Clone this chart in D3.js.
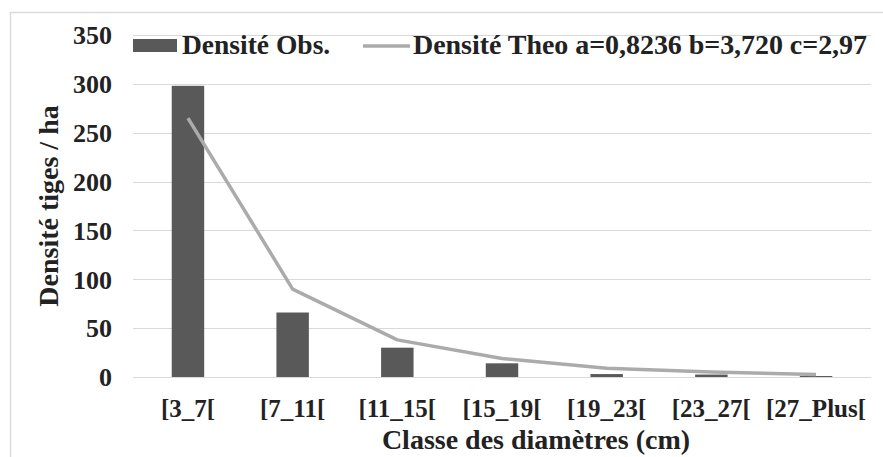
<!DOCTYPE html>
<html>
<head>
<meta charset="utf-8">
<script src="https://cdn.jsdelivr.net/npm/d3@7"></script>
<style>
  body { margin: 0; background: #fff; }
  svg text { font-family: "Liberation Serif", "Times New Roman", serif; font-weight: bold; fill: #222; }
</style>
</head>
<body>
<div id="chart"></div>
<script>
// classes de diamètre
const classes = ["[3_7[", "[7_11[", "[11_15[", "[15_19[", "[19_23[", "[23_27[", "[27_Plus["];
// densité observée (barres)
const densiteObs = [298, 66, 30, 14, 3, 2.5, 1];
// densité théorique (courbe Weibull)
const densiteTheo = [265, 90, 38, 19, 9, 5, 2.5];
const yTicks = [0, 50, 100, 150, 200, 250, 300, 350];
const legendObs = "Densité Obs.";
const legendTheo = "Densité Theo a=0,8236 b=3,720 c=2,97";

const width = 883, height = 457;
const margin = {top: 35, right: 12, bottom: 80, left: 133};

const svg = d3.select('#chart').append('svg')
    .attr('width', width)
    .attr('height', height);

// cadre du graphique
svg.append('path')
    .attr('d', `M10.5,${height} V12.5 H${width}`)
    .attr('fill', 'none')
    .attr('stroke', '#dcdcdc')
    .attr('stroke-width', 1.5);

const x = d3.scaleBand()
    .domain(classes)
    .range([margin.left, width - margin.right])
    .paddingInner(0.69)
    .paddingOuter(0.37);

const y = d3.scaleLinear()
    .domain([0, 350])
    .range([height - margin.bottom, margin.top]);

// grille horizontale
svg.append('g')
    .selectAll('line')
    .data(yTicks)
    .join('line')
    .attr('x1', margin.left)
    .attr('x2', width - margin.right)
    .attr('y1', d => Math.round(y(d)) + 0.5)
    .attr('y2', d => Math.round(y(d)) + 0.5)
    .attr('stroke', '#d9d9d9')
    .attr('stroke-width', 1.2);

// axe y
const yAxis = svg.append('g')
    .attr('transform', `translate(${margin.left - 21},0)`)
    .call(d3.axisLeft(y).tickValues(yTicks).tickSize(0).tickPadding(0));
yAxis.select('.domain').remove();
yAxis.selectAll('text')
    .style('font-size', '26px')
    .attr('dy', '0.34em')
    .attr('fill', '#222');

// axe x
const xAxis = svg.append('g')
    .attr('transform', `translate(0,${height - margin.bottom})`)
    .call(d3.axisBottom(x).tickSize(0).tickPadding(0));
xAxis.select('.domain').remove();
xAxis.selectAll('text')
    .style('font-size', '25px')
    .attr('y', 40)
    .attr('dy', 0)
    .attr('fill', '#222');

// barres
svg.append('g')
    .selectAll('rect')
    .data(densiteObs)
    .join('rect')
    .attr('x', (d, i) => x(classes[i]))
    .attr('y', d => y(d))
    .attr('width', x.bandwidth())
    .attr('height', d => y(0) - y(d))
    .attr('fill', '#595959');

// courbe théorique
const line = d3.line()
    .x((d, i) => x(classes[i]) + x.bandwidth() / 2)
    .y(d => y(d));

svg.append('path')
    .datum(densiteTheo)
    .attr('d', line)
    .attr('fill', 'none')
    .attr('stroke', '#ababab')
    .attr('stroke-width', 3.5)
    .attr('stroke-linejoin', 'round');

// titres des axes
svg.append('text')
    .attr('transform', `translate(48,${(y(0) + y(350)) / 2}) rotate(-90)`)
    .attr('text-anchor', 'middle')
    .attr('dominant-baseline', 'central')
    .style('font-size', '28px')
    .text('Densité tiges / ha');

svg.append('text')
    .attr('x', 536)
    .attr('y', 449)
    .attr('text-anchor', 'middle')
    .style('font-size', '28px')
    .text('Classe des diamètres (cm)');

// légende
const legend = svg.append('g');
legend.append('rect')
    .attr('x', 133).attr('y', 39)
    .attr('width', 44).attr('height', 13)
    .attr('fill', '#595959');
legend.append('text')
    .attr('x', 182).attr('y', 54)
    .style('font-size', '27.5px')
    .text(legendObs);
legend.append('line')
    .attr('x1', 363).attr('x2', 410)
    .attr('y1', 46).attr('y2', 46)
    .attr('stroke', '#ababab')
    .attr('stroke-width', 3.5);
legend.append('text')
    .attr('x', 413).attr('y', 54)
    .attr('textLength', 454)
    .attr('lengthAdjust', 'spacing')
    .style('font-size', '28px')
    .text(legendTheo);
</script>
</body>
</html>
